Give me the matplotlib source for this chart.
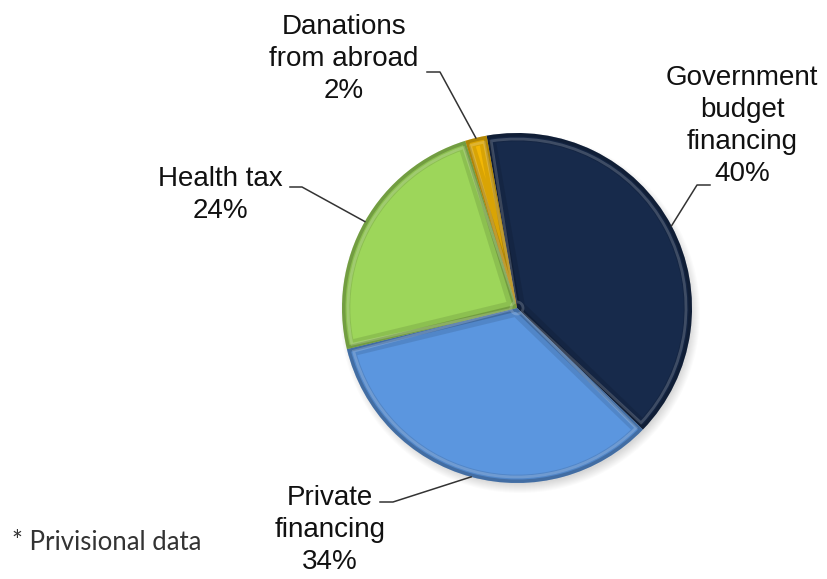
import numpy as np
import matplotlib.pyplot as plt
from matplotlib.patches import Wedge, Ellipse

# funding sources, clockwise from the top
sources = ["Government\nbudget\nfinancing", "Private\nfinancing", "Health tax", "Danations\nfrom abroad"]
shares = [40, 34, 24, 2]
colors = ["#172a4b", "#5b96df", "#9dd65a", "#f2b705"]

# label block centres and leader elbows (figure pixels, y down)
label_pos = [(742, 126), (330, 530), (220, 195), (344, 59)]
elbow_start = [(710, 185), (380, 502), (290, 187), (427, 72)]
elbow_end = [(697, 185), (393, 502), (302, 187), (440, 72)]

W, H = 827, 579
fig = plt.figure(figsize=(W / 100, H / 100), dpi=100)
ax = fig.add_axes([0, 0, 1, 1])
ax.set_xlim(0, W)
ax.set_ylim(H, 0)
ax.axis("off")

cx, cy, r = 517, 308, 175

# soft drop shadow
for k in range(10):
    ax.add_patch(Ellipse((cx + 3, cy + 5), 2 * (r + 5 - k), 2 * (r + 5 - k),
                         color="#000000", alpha=0.015, lw=0, zorder=1))

# y axis is inverted, so counter-clockwise in data space is clockwise on screen
start = -100.0
theta = start
for name, val, col in zip(sources, shares, colors):
    t1 = theta
    t2 = theta + val / sum(shares) * 360
    w = Wedge((cx, cy), r, t1, t2, facecolor=col, edgecolor="none", zorder=2)
    ax.add_patch(w)
    # bevel: darker rim and a faint inner highlight, clipped to the wedge
    for lw, c, a in [(12, "black", 0.10), (5, "black", 0.18)]:
        rim = Wedge((cx, cy), r, t1, t2, facecolor="none", edgecolor=c, lw=lw,
                    alpha=a, zorder=3)
        ax.add_patch(rim)
        rim.set_clip_path(w)
    hl = Wedge((cx, cy), r - 6, t1 + 1.2, t2 - 1.2, width=r - 12, facecolor="none",
               edgecolor="white", lw=2, alpha=0.18, zorder=3)
    ax.add_patch(hl)
    hl.set_clip_path(w)
    theta = t2

# labels with leader lines to the middle of each wedge's arc
theta = start
for name, val, (lx, ly), p0, p1 in zip(sources, shares, label_pos, elbow_start, elbow_end):
    t2 = theta + val / sum(shares) * 360
    mid = np.deg2rad((theta + t2) / 2)
    ex, ey = cx + r * np.cos(mid), cy + r * np.sin(mid)
    theta = t2
    ax.plot([p0[0], p1[0], ex], [p0[1], p1[1], ey], color="#333333", lw=1.1, zorder=4)
    ax.text(lx, ly, f"{name}\n{val}%", ha="center", va="center", fontsize=20,
            family="Liberation Sans", linespacing=1.3, color="#111111", zorder=5)

ax.text(12, 543, "* Privisional data", ha="left", va="center", fontsize=18.5,
        family="Lato", color="#333333")

fig.savefig("out.png", dpi=100)
